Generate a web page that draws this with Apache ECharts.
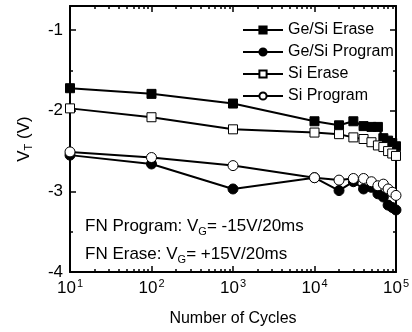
<!DOCTYPE html>
<html>
<head>
<meta charset="UTF-8">
<script src="https://cdn.jsdelivr.net/npm/echarts@6/dist/echarts.min.js"></script>
<title>VT vs cycles</title>
<style>html,body{margin:0;padding:0;background:#fff;}</style>
</head>
<body>
<div id="main" style="width:412px;height:332px;"></div>
<script>
// number of P/E cycles
var cycles = [10, 100, 1000, 1e4, 2e4, 3e4, 4e4, 5e4, 6e4, 7e4, 8e4, 9e4, 1e5];
// threshold voltage VT (V)
var geSiErase   = [-1.72, -1.79, -1.91, -2.13, -2.18, -2.13, -2.19, -2.20, -2.20, -2.34, -2.37, -2.40, -2.44];
var geSiProgram = [-2.55, -2.66, -2.97, -2.83, -2.99, -2.88, -2.97, -2.95, -3.03, -3.07, -3.17, -3.20, -3.23];
var siErase     = [-1.97, -2.08, -2.23, -2.27, -2.29, -2.33, -2.35, -2.39, -2.43, -2.45, -2.50, -2.53, -2.56];
var siProgram   = [-2.51, -2.58, -2.68, -2.83, -2.86, -2.84, -2.84, -2.88, -2.93, -2.91, -2.97, -3.01, -3.05];

// tick positions
var xMajor = [10, 100, 1000, 10000, 100000];
var yMinor = [-3.5, -2.5, -1.5];
var xMinor = [];
for (var d = 0; d < xMajor.length - 1; d++) {
    for (var k = 2; k < 10; k++) xMinor.push(xMajor[d] * k);
}

var FONT = 'Liberation Sans, Arial, sans-serif';

function pairs(ys) {
    return cycles.map(function (c, i) { return [c, ys[i]]; });
}

function lineSeries(name, ys, symbol, size, filled) {
    return {
        name: name,
        type: 'line',
        data: pairs(ys),
        symbol: symbol,
        symbolSize: size,
        showAllSymbol: true,
        clip: false,
        lineStyle: { color: '#000', width: 2 },
        itemStyle: {
            color: filled ? '#000' : '#fff',
            borderColor: '#000',
            borderWidth: 1
        },
        emphasis: { disabled: true }
    };
}

function xAx(pos, ticks, len, main) {
    return {
        type: 'log', logBase: 10, min: 10, max: 100000, position: pos,
        axisLine: { show: main, lineStyle: { color: '#000', width: 2 } },
        axisTick: { show: true, inside: true, length: len, customValues: ticks,
                    lineStyle: { color: '#000', width: 1.5 } },
        axisLabel: { show: false },
        splitLine: { show: false }
    };
}

function yAx(pos, len, main, ticks) {
    var a = {
        type: 'value', min: -4, max: -0.7, interval: 1, position: pos,
        axisLine: { show: main, lineStyle: { color: '#000', width: 2 } },
        axisTick: { show: true, inside: true, length: len, lineStyle: { color: '#000', width: 1.5 } },
        axisLabel: { show: false },
        splitLine: { show: false }
    };
    if (ticks) a.axisTick.customValues = ticks;
    return a;
}

var bottomMain = xAx('bottom', xMajor, 6, true);
bottomMain.axisLabel = {
    show: true, margin: 6, color: '#000',
    formatter: function (v) {
        return '{b|10}{p|' + Math.round(Math.log10(v)) + '}';
    },
    rich: {
        b: { fontSize: 17, fontFamily: FONT, color: '#000' },
        p: { fontSize: 11, fontFamily: FONT, color: '#000', padding: [0, 0, 10, 1] }
    }
};
bottomMain.name = 'Number of Cycles';
bottomMain.nameLocation = 'middle';
bottomMain.nameGap = 39;
bottomMain.nameTextStyle = { fontSize: 16, fontFamily: FONT, color: '#000' };

var leftMain = yAx('left', 6, true);
leftMain.axisLabel = {
    show: true, margin: 7, color: '#000', fontSize: 17, fontFamily: FONT,
    formatter: function (v) { return Math.abs(v - Math.round(v)) < 1e-6 ? String(v) : ''; }
};
leftMain.name = '{a|V}{s|T}{a| (V)}';
leftMain.nameLocation = 'middle';
leftMain.nameGap = 36;
leftMain.nameTextStyle = {
    rich: {
        a: { fontSize: 17, fontFamily: FONT, color: '#000' },
        s: { fontSize: 11, fontFamily: FONT, color: '#000', padding: [9, 0, 0, 0] }
    }
};

var myChart = echarts.init(document.getElementById('main'));
var option = {
    animation: false,
    backgroundColor: '#fff',
    grid: { left: 70, right: 8, top: 6, bottom: 58 },
    xAxis: [
        bottomMain,
        xAx('bottom', xMinor, 3, false),
        xAx('top', xMajor, 6, true),
        xAx('top', xMinor, 3, false)
    ],
    yAxis: [
        leftMain,
        yAx('left', 3, false, yMinor),
        yAx('right', 6, true),
        yAx('right', 3, false, yMinor)
    ],
    legend: {
        orient: 'vertical',
        left: 237, top: 17,
        itemWidth: 40, itemHeight: 9, itemGap: 6,
        textStyle: { fontSize: 16, fontFamily: FONT, color: '#000' },
        data: ['Ge/Si Erase', 'Ge/Si Program', 'Si Erase', 'Si Program']
    },
    graphic: [
        {
            type: 'text', left: 85, top: 218,
            style: {
                text: '{a|FN Program: V}{s|G}{a|= -15V/20ms}',
                rich: {
                    a: { fontSize: 17, fontFamily: FONT, fill: '#000' },
                    s: { fontSize: 11, fontFamily: FONT, fill: '#000', padding: [10, 0, 0, 0] }
                }
            }
        },
        {
            type: 'text', left: 85, top: 246,
            style: {
                text: '{a|FN Erase: V}{s|G}{a|= +15V/20ms}',
                rich: {
                    a: { fontSize: 17, fontFamily: FONT, fill: '#000' },
                    s: { fontSize: 11, fontFamily: FONT, fill: '#000', padding: [10, 0, 0, 0] }
                }
            }
        }
    ],
    series: [
        lineSeries('Ge/Si Erase', geSiErase, 'rect', 9, true),
        lineSeries('Ge/Si Program', geSiProgram, 'circle', 10, true),
        lineSeries('Si Erase', siErase, 'rect', 9, false),
        lineSeries('Si Program', siProgram, 'circle', 10, false)
    ]
};
myChart.setOption(option);
</script>
</body>
</html>
